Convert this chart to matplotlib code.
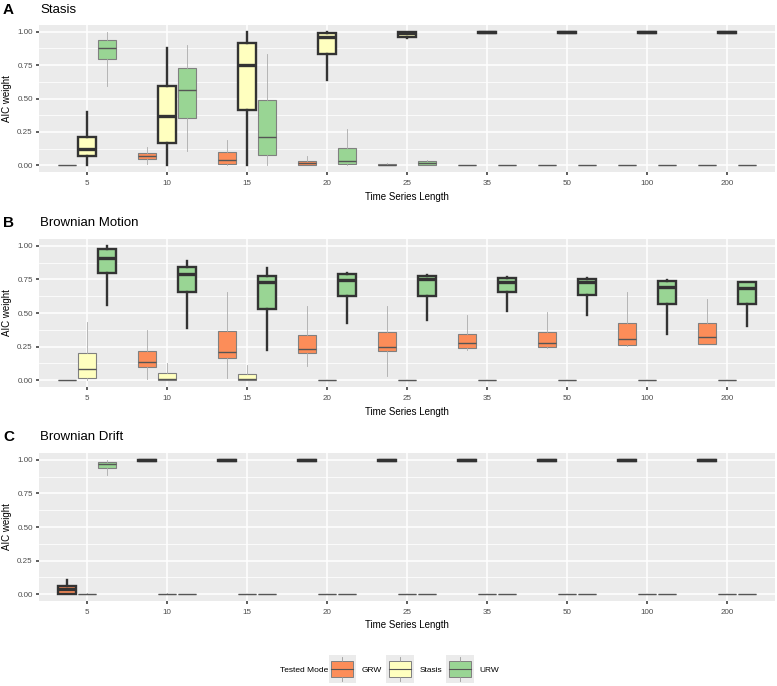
import numpy as np
import matplotlib
matplotlib.use('Agg')
import matplotlib.pyplot as plt
from matplotlib.patches import Patch, Rectangle
from matplotlib.lines import Line2D
from matplotlib.legend_handler import HandlerBase

plt.rcParams['font.family'] = ['Liberation Sans', 'DejaVu Sans']

# x categories
lengths = ['5', '10', '15', '20', '25', '35', '50', '100', '200']
modes = ['GRW', 'Stasis', 'URW']
mode_colors = {'GRW': '#FC8D59', 'Stasis': '#FFFFBF', 'URW': '#99D594'}

# box stats per length: (whisker low, q1, median, q3, whisker high)
zero = (0, 0, 0, 0, 0)
one = (0.99, 0.99, 1.0, 1.0, 1.0)

# A: Stasis
a_grw = [zero, (0.01, 0.045, 0.07, 0.095, 0.14), (0, 0.0125, 0.0425, 0.10, 0.19),
         (0, 0.0025, 0.015, 0.035, 0.07), (0, 0.002, 0.005, 0.008, 0.02),
         zero, zero, zero, zero]
a_stasis = [(0, 0.068, 0.125, 0.213, 0.40), (0, 0.1675, 0.37, 0.595, 0.875),
            (0, 0.4175, 0.75, 0.9125, 0.995), (0.6375, 0.8325, 0.9575, 0.9875, 1.0),
            (0.95, 0.9625, 0.9875, 1.0, 1.0), one, one, one, one]
a_urw = [(0.59, 0.795, 0.88, 0.94, 0.995), (0.11, 0.3575, 0.5625, 0.73, 0.90),
         (0, 0.075, 0.2125, 0.4875, 0.83), (0, 0.0125, 0.035, 0.1325, 0.275),
         (0, 0.005, 0.0175, 0.03, 0.0425), zero, zero, zero, zero]

# B: Brownian Motion
b_grw = [zero, (0.0075, 0.10, 0.1325, 0.215, 0.37), (0.02, 0.165, 0.2075, 0.365, 0.6575),
         (0.1075, 0.2025, 0.2325, 0.34, 0.5525), (0.0325, 0.22, 0.25, 0.3575, 0.55),
         (0.2275, 0.24, 0.2775, 0.345, 0.4825), (0.2375, 0.25, 0.2775, 0.3575, 0.5075),
         (0.2575, 0.265, 0.3075, 0.425, 0.6525), (0.27, 0.27, 0.32, 0.4275, 0.6075)]
b_stasis = [(0, 0.02, 0.0875, 0.2025, 0.4325), (0, 0, 0.0075, 0.0575, 0.125),
            (0, 0, 0.0075, 0.05, 0.115), zero, zero, zero, zero, zero, zero]
b_urw = [(0.5625, 0.795, 0.9075, 0.9775, 0.995), (0.39, 0.6575, 0.7875, 0.845, 0.8875),
         (0.225, 0.5325, 0.7275, 0.775, 0.8325), (0.425, 0.625, 0.745, 0.79, 0.80),
         (0.45, 0.625, 0.75, 0.7775, 0.7825), (0.515, 0.6525, 0.7275, 0.7625, 0.77),
         (0.4875, 0.6325, 0.7275, 0.7525, 0.7575), (0.345, 0.57, 0.695, 0.7375, 0.745),
         (0.40, 0.57, 0.6875, 0.7325, 0.7325)]

# C: Brownian Drift
c_grw = [(0, 0, 0.037, 0.06, 0.105), one, one, one, one, one, one, one, one]
c_stasis = [(0, 0, 0.002, 0.004, 0.006), (0, 0, 0.002, 0.004, 0.008),
            zero, zero, zero, zero, zero, zero, zero]
c_urw = [(0.89, 0.94, 0.965, 0.985, 0.995), zero, zero, zero, zero, zero, zero, zero, zero]

panels = [
    ('A', 'Stasis', 'Stasis', [a_grw, a_stasis, a_urw]),
    ('B', 'Brownian Motion', 'URW', [b_grw, b_stasis, b_urw]),
    ('C', 'Brownian Drift', 'GRW', [c_grw, c_stasis, c_urw]),
]


def to_stats(rows):
    return [dict(whislo=r[0], q1=r[1], med=r[2], q3=r[3], whishi=r[4]) for r in rows]


def draw_panel(ax, data, true_mode):
    x = np.arange(len(lengths))
    for j, (mode, rows) in enumerate(zip(modes, data)):
        # the generating model gets the heavy outline
        if mode == true_mode:
            ec, lw, mc, mlw, wc, wlw, z = '#333333', 1.7, '#333333', 2.4, '#333333', 1.7, 4
        else:
            ec, lw, mc, mlw, wc, wlw, z = '#808080', 0.8, '#555555', 1.0, '#ababab', 0.6, 3
        ax.bxp(to_stats(rows), positions=x + (j - 1) * 0.25, widths=0.235,
               patch_artist=True, showfliers=False, showcaps=False, manage_ticks=False,
               boxprops=dict(facecolor=mode_colors[mode], edgecolor=ec, linewidth=lw),
               medianprops=dict(color=mc, linewidth=mlw, solid_capstyle='butt'),
               whiskerprops=dict(color=wc, linewidth=wlw), zorder=z)
    ax.set_facecolor('#EBEBEB')
    for s in ax.spines.values():
        s.set_visible(False)
    ax.set_xlim(-0.6, len(lengths) - 0.4)
    ax.set_ylim(-0.05, 1.05)
    ax.set_xticks(x)
    ax.set_xticklabels(lengths)
    ax.set_yticks([0, 0.25, 0.5, 0.75, 1.0])
    ax.set_yticklabels(['0.00', '0.25', '0.50', '0.75', '1.00'])
    ax.set_yticks([0.125, 0.375, 0.625, 0.875], minor=True)
    ax.grid(True, which='major', color='white', linewidth=1.1)
    ax.grid(True, which='minor', axis='y', color='white', linewidth=0.55)
    ax.set_axisbelow(True)
    ax.tick_params(which='major', length=2.5, width=1.1, color='#333333',
                   labelcolor='#4d4d4d', labelsize=5.8, pad=2)
    ax.tick_params(axis='x', which='major', pad=3.5)
    ax.tick_params(which='minor', length=0)
    ax.set_xlabel('Time Series Length', fontsize=7, labelpad=3)
    ax.set_ylabel('AIC weight', fontsize=7, labelpad=4)


class BoxKey(HandlerBase):
    def create_artists(self, legend, orig_handle, xdescent, ydescent, width, height, fontsize, trans):
        x0, y0 = -xdescent, -ydescent - 2
        h = height + ydescent
        bg = Rectangle((x0, y0), width, h, facecolor='#EBEBEB', edgecolor='none', transform=trans)
        box = Rectangle((x0 + width * 0.1, y0 + h * 0.22), width * 0.8, h * 0.56,
                        facecolor=orig_handle.get_facecolor(), edgecolor='#808080', linewidth=0.7,
                        transform=trans)
        med = Line2D([x0 + width * 0.1, x0 + width * 0.9], [y0 + h * 0.5] * 2,
                     color='#555555', linewidth=0.8, transform=trans)
        w1 = Line2D([x0 + width / 2] * 2, [y0 + h * 0.05, y0 + h * 0.22],
                    color='#999999', linewidth=0.6, transform=trans)
        w2 = Line2D([x0 + width / 2] * 2, [y0 + h * 0.78, y0 + h * 0.95],
                    color='#999999', linewidth=0.6, transform=trans)
        return [bg, box, med, w1, w2]


fig = plt.figure(figsize=(7.77, 6.86), dpi=100)
W, H = 777, 686
axes_px = [(25, 172), (239, 387), (453, 601)]
title_y = [10, 223, 437]
for (letter, title, true_mode, data), (top, bottom), ty in zip(panels, axes_px, title_y):
    ax = fig.add_axes([39 / W, 1 - bottom / H, 736 / W, (bottom - top) / H])
    draw_panel(ax, data, true_mode)
    fig.text(3 / W, 1 - ty / H, letter, fontsize=11, fontweight='bold', va='center')
    fig.text(40 / W, 1 - ty / H, title, fontsize=9.5, va='center')

handles = [Patch(facecolor=mode_colors[m]) for m in modes]
fig.text(280 / W, 1 - 670 / H, 'Tested Mode', fontsize=6, va='center')
fig.legend(handles, modes, loc='center', bbox_to_anchor=(414 / W, 1 - 670 / H), ncol=3,
           frameon=False, fontsize=6, handler_map={Patch: BoxKey()},
           handlelength=3.3, handleheight=3.3, handletextpad=0.7, columnspacing=0.5,
           borderpad=0)

fig.savefig('out.png', dpi=100)
